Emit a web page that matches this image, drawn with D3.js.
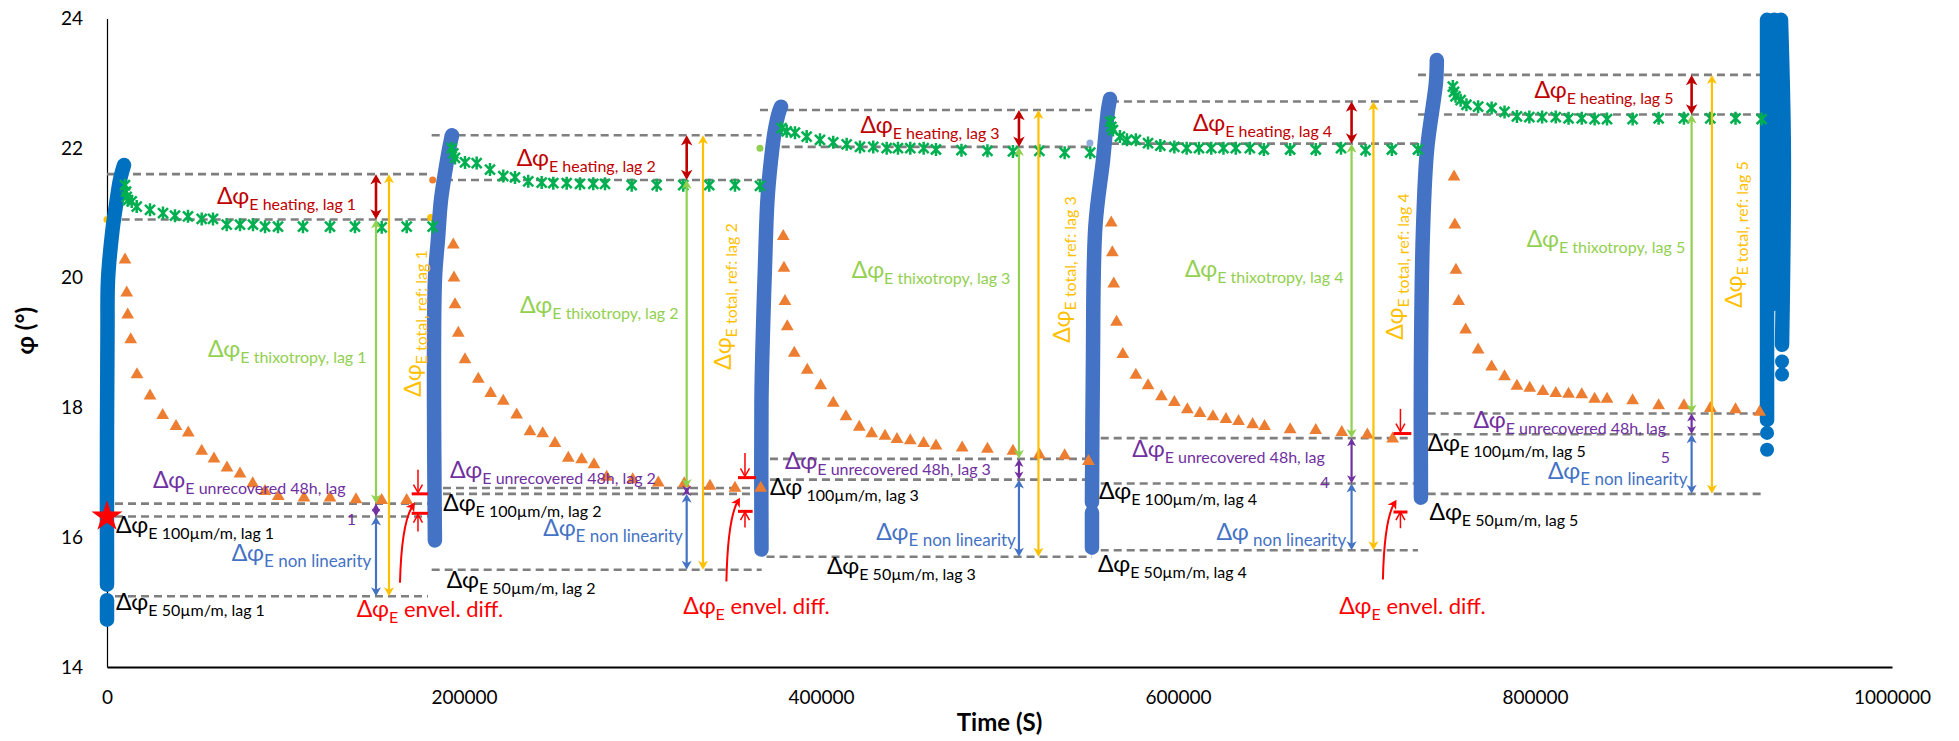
<!DOCTYPE html>
<html><head><meta charset="utf-8">
<script src="https://cdn.jsdelivr.net/npm/d3@7"></script>
<style>
html,body{margin:0;padding:0;background:#fff;}
svg{display:block;font-family:Lato,"Open Sans",sans-serif;}
text{white-space:pre;}
</style></head><body>
<svg id="chart" width="1959" height="741"></svg>
<script>
// ---------------- data ----------------
const xTicks = [0, 200000, 400000, 600000, 800000, 1000000];
const yTicks = [14, 16, 18, 20, 22, 24];
const lags = ["1", "2", "3", "4", "5"];

// strain-sweep curves (time s, phase angle °)
const blueLag1a = [[0,15.27],[0,17.66],[280,19.20],[560,19.97],[3080,20.74],[5040,21.12],[7280,21.51],[9520,21.74]];
const blueLag1b = [[0,15.03],[0,14.73]];
const blueLag2 = [[183700,15.95],[183700,19.97],[185400,20.59],[187100,21.20],[189900,21.71],[192100,22.05],[193300,22.20]];
const blueLag3 = [[366650,15.81],[366650,18.12],[367500,19.20],[368600,20.17],[370000,21.20],[372000,21.82],[374200,22.28],[376500,22.56],[377600,22.64]];
const blueLag4a = [[551800,16.54],[552300,18.54],[553700,20.79],[558000,21.82],[560800,22.59],[561900,22.76]];
const blueLag4b = [[551800,16.38],[551800,15.84]];
const blueLag5 = [[736100,16.61],[736100,18.63],[737200,20.69],[739500,21.97],[744500,23.01],[745000,23.36]];
const blueFinalA = [[930000,23.98],[930000,17.81]];
const blueFinalM = [[934000,23.98],[934000,19.60]];
const blueFinalB = [[937800,23.98],[939400,21.97],[938400,18.97]];
const blueFinalDots = [[930000,17.61],[930000,17.35],[938400,18.71],[938400,18.51]];

// recovery at 50 µm/m (green stars)
const greenLag1 = [[10080,21.43],[10640,21.33],[11040,21.25],[11770,21.20],[13840,21.18],[16640,21.10],[24090,21.05],[31370,21.00],[38090,20.96],[45370,20.95],[53050,20.91],[59380,20.91],[67060,20.82],[74510,20.82],[81790,20.82],[88520,20.79],[95800,20.79],[109800,20.79],[124930,20.79],[138930,20.79],[153890,20.78],[167900,20.79],[182460,20.79]];
const greenLag2 = [[193100,22.00],[194000,21.92],[194950,21.85],[200550,21.78],[207100,21.77],[214560,21.67],[222000,21.57],[228570,21.55],[236000,21.49],[243520,21.47],[250020,21.46],[257530,21.46],[264980,21.45],[272430,21.45],[278980,21.45],[293940,21.43],[307940,21.43],[322840,21.43],[337400,21.43],[351800,21.43],[365810,21.42]];
const greenLag3 = [[377970,22.31],[380770,22.26],[385420,22.24],[391970,22.18],[399420,22.13],[406870,22.09],[414380,22.06],[421830,22.02],[429280,22.02],[436790,22.00],[443120,22.00],[450000,22.00],[457510,22.00],[464400,21.98],[478690,21.97],[493250,21.96],[507540,21.95],[522330,21.96],[536500,21.93],[550840,21.93]];
const greenLag4 = [[562050,22.41],[562610,22.33],[563560,22.28],[567480,22.18],[571400,22.13],[576390,22.13],[583220,22.08],[590110,22.04],[597960,22.02],[604850,22.00],[611740,22.00],[618630,22.00],[625470,22.00],[632360,22.00],[640260,22.00],[648100,21.98],[662840,21.98],[677180,21.98],[691300,22.00],[705080,21.97],[719810,21.98],[734430,21.98]];
const greenLag5 = [[753970,22.95],[754640,22.87],[755480,22.80],[758340,22.74],[761590,22.67],[768140,22.64],[775700,22.62],[782930,22.56],[789880,22.49],[796830,22.48],[804000,22.48],[811620,22.48],[818790,22.46],[826180,22.46],[833410,22.45],[840350,22.45],[854690,22.45],[869260,22.46],[883430,22.46],[898220,22.46],[912340,22.46],[926960,22.45]];

// recovery at 100 µm/m (orange triangles)
const orangeLag1 = [[10080,20.28],[11040,19.77],[11600,19.43],[13280,19.05],[16810,18.51],[24090,18.18],[31200,17.88],[38660,17.71],[45540,17.61],[53050,17.33],[59940,17.21],[67220,17.07],[74510,16.98],[81620,16.83],[88520,16.71],[95960,16.63],[110360,16.61],[124930,16.61],[139490,16.58],[153890,16.57],[167890,16.57]];
const orangeLag2 = [[194000,20.51],[194390,20.00],[194950,19.59],[196800,19.15],[200550,18.74],[208000,18.44],[214950,18.22],[222000,18.10],[229510,17.89],[236960,17.63],[244080,17.60],[250970,17.45],[258420,17.22],[265920,17.20],[272820,17.12],[279930,16.93],[294500,16.89],[308840,16.84],[323400,16.83],[337800,16.79],[351800,16.76],[366200,16.76]];
const orangeLag3 = [[378860,20.64],[379260,20.15],[379820,19.64],[381110,19.25],[385030,18.84],[392310,18.58],[399820,18.34],[406870,18.07],[413990,17.86],[421440,17.70],[428380,17.60],[435840,17.56],[442560,17.51],[450010,17.49],[457520,17.45],[464410,17.41],[479090,17.38],[493260,17.36],[507540,17.33],[522330,17.27],[536500,17.26],[549840,17.17]];
const orangeLag4 = [[562610,20.85],[563220,20.39],[564000,19.91],[565570,19.32],[569100,18.82],[576390,18.50],[583220,18.34],[590730,18.17],[597960,18.08],[605240,17.97],[612300,17.91],[619580,17.86],[626870,17.82],[633920,17.79],[641820,17.74],[648490,17.71],[662830,17.66],[677170,17.65],[691740,17.62],[706080,17.58],[720250,17.52]];
const orangeLag5 = [[754640,21.56],[755090,20.82],[755710,20.12],[757220,19.64],[761140,19.20],[768140,18.89],[775700,18.63],[782930,18.48],[789880,18.33],[797050,18.30],[804440,18.25],[811620,18.22],[818790,18.21],[826180,18.20],[833410,18.13],[840350,18.13],[854690,18.11],[869260,18.03],[883430,18.03],[898220,17.99],[912340,17.97],[925850,17.93]];

// isolated start points of other series
const yellowDots = [[0,20.90],[181300,20.93]];
const orangeDots = [[182460,21.51]];
const lightGreenDots = [[365810,22.00]];
const lightBlueDots = [[550660,22.08]];

const refStar = [[0, 16.35]];

// reference levels per lag (°)
const heatTop      = [21.60, 22.20, 22.59, 22.72, 23.13];
const heatBottom   = [20.90, 21.51, 22.02, 22.07, 22.52];
const unrecovered  = [16.52, 16.76, 17.21, 17.53, 17.91];
const level100     = [16.32, 16.67, 16.89, 16.83, 17.59];
const level50      = [15.09, 15.50, 15.70, 15.80, 16.67];
// time spans of the reference levels (s)
const heatTopFrom    = [0, 181890, 365810, 562440, 734430];
const heatBottomFrom = [8230, 189350, 377970, 562440, 734430];
const heatTo         = [180940, 366760, 551800, 735540, 926960];
const lowFrom        = [4480, 188230, 371400, 556700, 739860];
const unrecTo        = [179820, 366760, 548980, 731060, 926960];
const l100To         = [179820, 366760, 548980, 732180, 926960];
const l50From        = [4480, 181890, 369500, 556700, 739860];
const l50To          = [179820, 366760, 551800, 734430, 926960];
// times of the difference arrows (s)
const arrowAt = [150700, 324750, 510900, 697240, 887740];
const totalAt = [157980, 333900, 521820, 709500, 899120];

// envelope difference markers (lags 1, 2, 4)
const envelDownAt   = [174220, 357410, 724610];
const envelDownFrom = [17.04, 17.30, 17.98];
const envelDownTo   = [16.69, 16.94, 17.63];
const envelTopBar   = [16.67, 16.92, 17.60];
const envelUpFrom   = [16.09, 16.15, 16.14];
const envelUpTo     = [16.35, 16.39, 16.39];
const envelBotBar   = [16.37, 16.40, 16.39];
const envelBarFrom  = [170690, 353490, 720700];
const envelTopBarTo = [179820, 363570, 730730];
const envelBotBarTo = [179820, 361710, 728540];
const envelCurveFrom = [[164140,15.30],[347000,15.32],[714800,15.35]];
const envelCurveTo   = [[172540,16.54],[354600,16.61],[722430,16.58]];

// label anchors (time s, φ °) : start of "Δφ", baseline
const heatLabelAt  = [[61620,21.140],[229510,21.726],[422110,22.234],[608380,22.265],[799680,22.774]];
const thixLabelAt  = [[56580,18.780],[231360,19.459],[417240,19.998],[603900,20.014],[795320,20.476]];
const unrecLabelAt = [[25770,16.760],[192150,16.914],[379820,17.053],[574420,17.238],[765510,17.685]];
const unrecLabelText = ["E unrecovered 48h, lag", "E unrecovered 48h, lag 2", "E unrecovered 48h, lag 3", "E unrecovered 48h, lag", "E unrecovered 48h, lag"];
const unrecLagNoAt = [[134280,16.190,"1"],[679520,16.760,"4"],[870390,17.150,"5"]];
const l100LabelAt  = [[5040,16.066],[188390,16.406],[371420,16.652],[555720,16.591],[739860,17.331]];
const l100LabelText = ["E 100µm/m, lag 1","E 100µm/m, lag 2"," 100µm/m, lag 3","E 100µm/m, lag 4","E 100µm/m, lag 5"];
const nonlinLabelAt = [[69860,15.627],[244420,16.020],[430960,15.951],[621540,15.951],[807250,16.899]];
const nonlinLabelText = ["E non linearity","E non linearity","E non linearity"," non linearity","E non linearity"];
const l50LabelAt   = [[5040,14.879],[190300,15.214],[403340,15.434],[555160,15.470],[740920,16.267]];
const envelLabelAt = [[139880,14.776],[322840,14.817],[690320,14.817]];
const totalLabelAt = [[175900,18.168],[349560,18.584],[539470,19.000],[725800,19.046],[916150,19.539]];

// ---------------- drawing ----------------
const C = {heat:"#C00000", thix:"#92D050", total:"#FFC000", unrec:"#7030A0", nonlin:"#4472C4",
           envel:"#FF0000", dash:"#7F7F7F", green:"#00B050", orange:"#ED7D31", blue1:"#0070C0", blue2:"#4472C4"};
const svg = d3.select("#chart");
const x = d3.scaleLinear().domain([0, 1000000]).range([107, 1892]);
const y = d3.scaleLinear().domain([14, 24]).range([667, 18.5]);
const FONT = "Lato, 'Open Sans', sans-serif";

// axes
const gy = svg.append("g").attr("transform", `translate(${x(0)},0)`)
  .call(d3.axisLeft(y).tickValues(yTicks).tickSize(0).tickSizeOuter(0).tickPadding(24).tickFormat(d3.format("d")));
gy.select(".domain").attr("stroke", "#000").attr("stroke-width", 1.2);
gy.selectAll("text").attr("font-size", 19).attr("font-family", FONT).attr("fill", "#000");
const gx = svg.append("g").attr("transform", `translate(0,${y(14)})`)
  .call(d3.axisBottom(x).tickValues(xTicks).tickSize(0).tickSizeOuter(0).tickPadding(24).tickFormat(d3.format("d")));
gx.select(".domain").attr("stroke", "#000").attr("stroke-width", 1.8);
gx.selectAll("text").attr("font-size", 19).attr("font-family", FONT).attr("fill", "#000");

svg.append("text").attr("x", (x.range()[0] + x.range()[1]) / 2).attr("y", 731)
  .attr("text-anchor", "middle").attr("font-weight", "bold").attr("font-size", 24).attr("font-family", FONT).text("Time (S)");
svg.append("text").attr("transform", `translate(34,${(y.range()[0] + y.range()[1]) / 2 - 12}) rotate(-90)`)
  .attr("text-anchor", "middle").attr("font-weight", "bold").attr("font-size", 24).attr("font-family", FONT).text("φ (°)");

// dashed reference lines
const gd = svg.append("g").attr("stroke", C.dash).attr("stroke-width", 2.6).attr("stroke-dasharray", "8,5").attr("fill", "none");
function hline(t1, t2, v) {
  gd.append("line").attr("x1", x(t1)).attr("x2", x(t2)).attr("y1", y(v)).attr("y2", y(v));
}
lags.forEach((_, i) => {
  hline(heatTopFrom[i], heatTo[i], heatTop[i]);
  hline(heatBottomFrom[i], heatTo[i], heatBottom[i]);
  hline(lowFrom[i], unrecTo[i], unrecovered[i]);
  hline(lowFrom[i], l100To[i], level100[i]);
  hline(l50From[i], l50To[i], level50[i]);
});

// small start points
function dots(arr, color) {
  svg.append("g").selectAll("circle").data(arr).join("circle")
    .attr("cx", d => x(d[0])).attr("cy", d => y(d[1])).attr("r", 3.5).attr("fill", color);
}
dots(yellowDots, "#FFC000"); dots(orangeDots, C.orange); dots(lightGreenDots, "#92D050"); dots(lightBlueDots, "#8FAADC");

// blue strain sweeps
const line = d3.line().x(d => x(d[0])).y(d => y(d[1])).curve(d3.curveCatmullRom);
const gb = svg.append("g").attr("fill", "none").attr("stroke-width", 14.5).attr("stroke-linecap", "round").attr("stroke-linejoin", "round");
[blueLag1a, blueLag1b, blueFinalA, blueFinalM, blueFinalB].forEach(s => gb.append("path").attr("d", line(s)).attr("stroke", C.blue1));
[blueLag2, blueLag3, blueLag4a, blueLag4b, blueLag5].forEach(s => gb.append("path").attr("d", line(s)).attr("stroke", C.blue2));
svg.append("g").selectAll("circle").data(blueFinalDots).join("circle")
  .attr("cx", d => x(d[0])).attr("cy", d => y(d[1])).attr("r", 7).attr("fill", C.blue1);

// green star markers
const gg = svg.append("g").attr("stroke", C.green).attr("stroke-width", 2.5).attr("fill", "none");
[greenLag1, greenLag2, greenLag3, greenLag4, greenLag5].forEach(s => {
  s.forEach(d => gg.append("path").attr("d", "M-5,-5L5,5M-5,5L5,-5M0,-6.5L0,6.5")
    .attr("transform", `translate(${x(d[0])},${y(d[1])})`));
});
// orange triangles
const tri = d3.symbol(d3.symbolTriangle, 70);
const go = svg.append("g").attr("fill", C.orange);
[orangeLag1, orangeLag2, orangeLag3, orangeLag4, orangeLag5].forEach(s => {
  s.forEach(d => go.append("path").attr("d", tri()).attr("transform", `translate(${x(d[0])},${y(d[1])})`));
});
// reference star
svg.append("g").selectAll("path").data(refStar).join("path")
  .attr("d", d3.symbol(d3.symbolStar, 300)()).attr("fill", "#FF0000")
  .attr("transform", d => `translate(${x(d[0])},${y(d[1]) + 2})`);

// arrows
const ga = svg.append("g");
function head(X, Y, ang, color, s = 1) {
  ga.append("path").attr("d", "M0,0L-5,9L0,6.5L5,9Z").attr("fill", color)
    .attr("transform", `translate(${X},${Y}) rotate(${ang}) scale(${s})`);
}
function openHead(X, Y, ang, color) {
  ga.append("path").attr("d", "M-4.5,8L0,0L4.5,8").attr("fill", "none").attr("stroke", color).attr("stroke-width", 1.5)
    .attr("transform", `translate(${X},${Y}) rotate(${ang})`);
}
function vArrow(t, vTop, vBot, color, w, s = 1) {
  const X = x(t), y1 = y(vTop), y2 = y(vBot);
  ga.append("line").attr("x1", X).attr("x2", X).attr("y1", y1 + 4).attr("y2", y2 - 4).attr("stroke", color).attr("stroke-width", w);
  head(X, y1, 0, color, s); head(X, y2, 180, color, s);
}
lags.forEach((_, i) => {
  vArrow(totalAt[i], heatTop[i], level50[i], C.total, 2.2);
  vArrow(arrowAt[i], heatTop[i], heatBottom[i], C.heat, 2.6, 1.15);
  vArrow(arrowAt[i], heatBottom[i], unrecovered[i], C.thix, 2.2);
  vArrow(arrowAt[i], level100[i], level50[i], C.nonlin, 2.2);
  vArrow(arrowAt[i], unrecovered[i], level100[i], C.unrec, 2.2, 0.9);
});
// envelope difference marks
envelDownAt.forEach((t, i) => {
  const X = x(t);
  ga.append("line").attr("x1", X).attr("x2", X).attr("y1", y(envelDownFrom[i])).attr("y2", y(envelDownTo[i]))
    .attr("stroke", C.envel).attr("stroke-width", 1.5);
  openHead(X, y(envelDownTo[i]), 180, C.envel);
  ga.append("line").attr("x1", x(envelBarFrom[i])).attr("x2", x(envelTopBarTo[i])).attr("y1", y(envelTopBar[i])).attr("y2", y(envelTopBar[i]))
    .attr("stroke", C.envel).attr("stroke-width", 3);
  ga.append("line").attr("x1", X).attr("x2", X).attr("y1", y(envelUpFrom[i])).attr("y2", y(envelUpTo[i]))
    .attr("stroke", C.envel).attr("stroke-width", 1.5);
  openHead(X, y(envelUpTo[i]), 0, C.envel);
  ga.append("line").attr("x1", x(envelBarFrom[i])).attr("x2", x(envelBotBarTo[i])).attr("y1", y(envelBotBar[i])).attr("y2", y(envelBotBar[i]))
    .attr("stroke", C.envel).attr("stroke-width", 3);
  const X1 = x(envelCurveFrom[i][0]), Y1 = y(envelCurveFrom[i][1]);
  const X2 = x(envelCurveTo[i][0]), Y2 = y(envelCurveTo[i][1]);
  const cx = X1 + (X2 - X1) * 0.1, cy = Y2 + (Y1 - Y2) * 0.25;
  ga.append("path").attr("d", `M${X1},${Y1}Q${cx},${cy} ${X2 - 2},${Y2 + 3}`).attr("fill", "none")
    .attr("stroke", C.envel).attr("stroke-width", 2);
  head(X2, Y2, Math.atan2(Y2 - cy, X2 - cx) * 180 / Math.PI + 90, C.envel);
});

// labels
const gl = svg.append("g").attr("font-family", FONT);
function label(at, color, sub, tail, subSize = 16) {
  const tx = gl.append("text").attr("x", x(at[0])).attr("y", y(at[1])).attr("fill", color);
  tx.append("tspan").attr("font-size", 23).text("Δφ");
  tx.append("tspan").attr("font-size", subSize).attr("dy", 6).text(sub);
  if (tail) tx.append("tspan").attr("font-size", 22).attr("dy", -6).text(tail);
}
lags.forEach((lag, i) => {
  label(heatLabelAt[i], C.heat, "E heating, lag " + lag);
  label(thixLabelAt[i], C.thix, "E thixotropy, lag " + lag);
  label(unrecLabelAt[i], C.unrec, unrecLabelText[i]);
  label(l100LabelAt[i], "#000", l100LabelText[i]);
  label(nonlinLabelAt[i], C.nonlin, nonlinLabelText[i], null, 17);
  label(l50LabelAt[i], "#000", "E 50µm/m, lag " + lag);
  const tl = gl.append("text").attr("fill", C.total)
    .attr("transform", `translate(${x(totalLabelAt[i][0])},${y(totalLabelAt[i][1])}) rotate(-90)`);
  tl.append("tspan").attr("font-size", 23).text("Δφ");
  tl.append("tspan").attr("font-size", 16).attr("dy", 6).text("E total, ref: lag " + lag);
});
unrecLagNoAt.forEach(d => gl.append("text").attr("x", x(d[0])).attr("y", y(d[1])).attr("fill", C.unrec).attr("font-size", 16).text(d[2]));
envelLabelAt.forEach(at => label(at, C.envel, "E", " envel. diff."));
</script>
</body></html>
